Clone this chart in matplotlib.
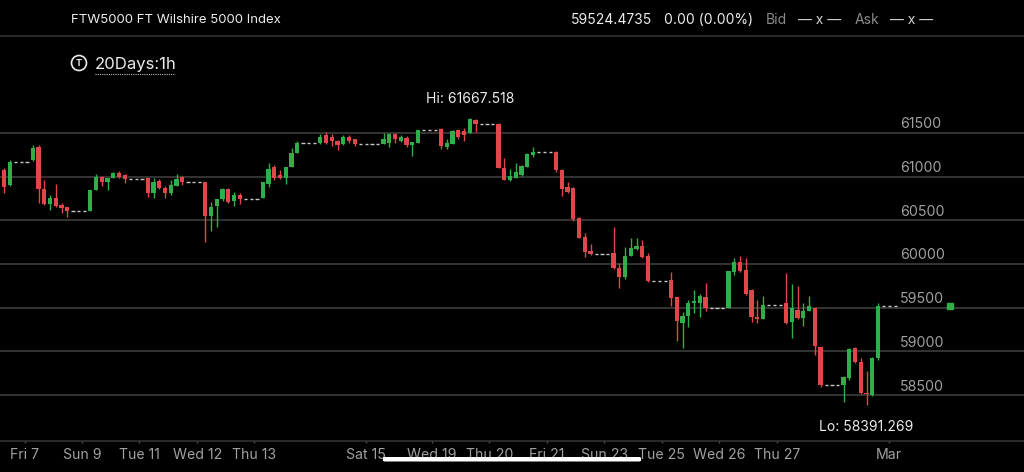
import matplotlib
matplotlib.use("Agg")
import matplotlib.pyplot as plt
from matplotlib.patches import Circle, FancyBboxPatch, Rectangle
import matplotlib.transforms as mtransforms

plt.rcParams['font.family'] = ['Inter', 'DejaVu Sans']

# ---------------- data (hourly candles, 20 days) ----------------
opens = [61076, 60904, 61171, 61171, 61171, 61190, 61342, 60855, 60687, 60759,
         60675, 60649, 60606, 60606, 60606, 60606, 60847, 60999, 60942, 60981,
         61045, 61018, 60973, 60973, 60973, 60981, 60816, 60953, 60866, 60809,
         60893, 60992, 60935, 60935, 60935, 60942, 60549, 60664, 60740, 60858,
         60721, 60790, 60740, 60740, 60740, 60752, 60915, 61106, 61018, 60981,
         61106, 61274, 61381, 61381, 61381, 61381, 61476, 61457, 61411, 61370,
         61457, 61427, 61370, 61370, 61370, 61370, 61376, 61381, 61488, 61411,
         61438, 61362, 61381, 61530, 61530, 61530, 61545, 61335, 61373, 61533,
         61525, 61496, 61648, 61605, 61605, 61605, 61602, 61095, 60961, 60981,
         61018, 61113, 61247, 61280, 61280, 61280, 61285, 61076, 60878, 60866,
         60523, 60312, 60149, 60120, 60120, 60120, 60129, 59958, 59851, 60095,
         60172, 60203, 60092, 59800, 59800, 59800, 59817, 59619, 59328, 59405,
         59557, 59557, 59619, 59495, 59495, 59495, 59495, 59912, 60026, 59931,
         59702, 59397, 59371, 59535, 59535, 59535, 59550, 59336, 59470, 59379,
         59466, 59500, 59056, 58610, 58610, 58610, 58616, 58692, 59035, 58882,
         58524, 58501, 58921, 59524.4735, 59524.4735, 59524.4735]
highs = [61098, 61190, 61171, 61171, 61171, 61362, 61356, 60961, 60790, 60912,
         60701, 60656, 60606, 60606, 60606, 60850, 61030, 61007, 60987, 61056,
         61064, 61030, 60973, 60973, 60973, 60981, 60981, 60969, 60893, 60961,
         61026, 61007, 60935, 60935, 60935, 60942, 60713, 60740, 60873, 60873,
         60820, 60809, 60740, 60740, 60740, 60942, 61159, 61133, 61076, 61113,
         61324, 61407, 61381, 61381, 61381, 61488, 61514, 61488, 61419, 61476,
         61476, 61434, 61370, 61370, 61370, 61370, 61496, 61502, 61496, 61473,
         61465, 61399, 61533, 61530, 61530, 61530, 61553, 61427, 61533, 61548,
         61553, 61667.518, 61656, 61605, 61605, 61605, 61610, 61216, 61084, 61152,
         61133, 61274, 61335, 61280, 61280, 61280, 61296, 61084, 60942, 60885,
         60534, 60351, 60229, 60120, 60120, 60120, 60418, 60017, 60198, 60297,
         60297, 60275, 60122, 59800, 59800, 59800, 59908, 59622, 59454, 59588,
         59702, 59657, 59779, 59495, 59495, 59495, 59920, 60065, 60092, 60065,
         59711, 59588, 59634, 59535, 59535, 59535, 59900, 59771, 59748, 59550,
         59634, 59500, 59056, 58610, 58610, 58610, 58719, 59035, 59054, 58921,
         58779, 58932, 59550, 59524.4735, 59524.4735, 59524.4735]
lows = [60809, 60898, 61171, 61171, 61171, 61179, 60698, 60675, 60618, 60649,
        60587, 60541, 60606, 60606, 60606, 60606, 60847, 60893, 60847, 60981,
        60987, 60930, 60973, 60973, 60973, 60770, 60752, 60855, 60759, 60790,
        60893, 60904, 60935, 60935, 60935, 60255, 60381, 60427, 60724, 60701,
        60664, 60687, 60740, 60740, 60740, 60752, 60878, 60961, 60969, 60915,
        61106, 61274, 61381, 61381, 61381, 61373, 61373, 61350, 61304, 61362,
        61388, 61350, 61370, 61370, 61370, 61370, 61376, 61335, 61381, 61393,
        61342, 61236, 61381, 61530, 61530, 61530, 61312, 61312, 61373, 61434,
        61411, 61496, 61514, 61605, 61605, 61605, 61095, 60961, 60953, 60981,
        61007, 61113, 61228, 61280, 61280, 61280, 61056, 60782, 60816, 60495,
        60294, 60084, 60103, 60120, 60120, 60120, 59943, 59722, 59823, 60092,
        60160, 60074, 59791, 59800, 59800, 59800, 59519, 59122, 59035, 59283,
        59443, 59397, 59466, 59495, 59495, 59495, 59495, 59874, 59912, 59645,
        59340, 59322, 59371, 59535, 59535, 59535, 59308, 59150, 59367, 59285,
        59466, 58959, 58598, 58610, 58610, 58610, 58424, 58673, 58864, 58513,
        58391.269, 58490, 58902, 59524.4735, 59524.4735, 59524.4735]
closes = [60885, 61171, 61171, 61171, 61171, 61324, 60855, 60687, 60752, 60664,
          60637, 60606, 60606, 60606, 60606, 60847, 60999, 60942, 60981, 61045,
          60999, 60973, 60973, 60973, 60973, 60809, 60942, 60866, 60809, 60904,
          60969, 60935, 60935, 60935, 60935, 60549, 60656, 60740, 60858, 60713,
          60790, 60740, 60740, 60740, 60740, 60942, 61084, 60981, 60981, 61106,
          61274, 61381, 61381, 61381, 61381, 61457, 61381, 61411, 61362, 61457,
          61411, 61370, 61370, 61370, 61370, 61370, 61427, 61488, 61427, 61450,
          61362, 61399, 61530, 61530, 61530, 61530, 61350, 61381, 61525, 61457,
          61476, 61656, 61605, 61605, 61605, 61605, 61095, 60961, 61007, 61056,
          61121, 61255, 61280, 61280, 61280, 61280, 61076, 60858, 60827, 60511,
          60301, 60141, 60120, 60120, 60120, 60120, 59951, 59855, 60097, 60183,
          60203, 60084, 59800, 59800, 59800, 59800, 59608, 59348, 59405, 59557,
          59577, 59634, 59495, 59495, 59495, 59495, 59920, 60026, 59923, 59657,
          59397, 59371, 59535, 59535, 59535, 59535, 59325, 59497, 59379, 59459,
          59519, 59062, 58610, 58610, 58610, 58610, 58704, 59024, 58882, 58521,
          58509, 58921, 59524.4735, 59524.4735, 59524.4735, 59524.4735]

y_ticks = [58500, 59000, 59500, 60000, 60500, 61000, 61500]
x_tick_pos = [3.65, 13.6, 23.5, 33.6, 43.5, 63.0, 74.4, 84.4, 94.4, 104.4, 114.4, 124.4, 134.4, 153.9]
x_tick_labels = ["Fri 7", "Sun 9", "Tue 11", "Wed 12", "Thu 13", "Sat 15", "Wed 19",
                 "Thu 20", "Fri 21", "Sun 23", "Tue 25", "Wed 26", "Thu 27", "Mar"]

symbol_title = "FTW5000 FT Wilshire 5000 Index"
last_price = 59524.4735
change_text = "0.00 (0.00%)"
period_text = "20Days:1h"
marker_pos = 164.5

# ---------------- styling ----------------
GREEN = '#2fae4a'
RED = '#e2464b'
GRID = '#383838'
LABEL = '#a0a0a0'
WHITE = '#ececec'

W, H = 1024, 472
fig = plt.figure(figsize=(W / 100, H / 100), dpi=100, facecolor='black')
ax = fig.add_axes([0, 0, 1, 1])
ax.set_facecolor('black')
ax.set_axis_off()

DX = 5.75
YMIN, YMAX = 57620.1, 63020.7
PPX = (YMAX - YMIN) / H   # price units per pixel
ax.set_xlim(-4 / DX, (W - 4) / DX)
ax.set_ylim(YMIN, YMAX)


def fy(ypix):
    return 1 - ypix / H


def fx(xpix):
    return xpix / W


# grid lines + y labels
for v in y_ticks:
    ax.axhline(v, color=GRID, lw=1.3, zorder=1)
    t = mtransforms.offset_copy(mtransforms.blended_transform_factory(ax.transAxes, ax.transData),
                                fig=fig, x=0, y=3.3, units='points')
    ax.text(900 / W, v, f"{v}", transform=t, color=LABEL, fontsize=10.2,
            ha='left', va='baseline', zorder=2)

# header separator and bottom axis line
fig.add_artist(plt.Line2D([0, 1], [fy(36), fy(36)], color='#333333', lw=1.2))
fig.add_artist(plt.Line2D([0, 1], [fy(440.7), fy(440.7)], color='#333333', lw=1.2))

# candles
n = len(opens)
for i in range(n):
    o, h, l, c = opens[i], highs[i], lows[i], closes[i]
    if o == c and h == l:
        ax.hlines(c, i - 0.3, i + 0.3, color='#c8c8c8', lw=1.0, zorder=3)
        continue
    col = GREEN if c >= o else RED
    ax.vlines(i, l, h, color=col, lw=1.0, zorder=3)
    bottom = min(o, c)
    height = max(abs(c - o), 14)
    ax.add_patch(Rectangle((i - 0.36, bottom), 0.72, height, facecolor=col,
                           edgecolor='none', zorder=4))

# current price marker
ax.plot([marker_pos], [last_price], marker='s', ms=4, color=GREEN, zorder=5)

# Hi / Lo labels
hi_idx = highs.index(max(highs))
lo_idx = lows.index(min(lows))
ax.text(hi_idx, max(highs), f"Hi: {max(highs):.3f}", color=WHITE, fontsize=10,
        ha='center', va='baseline',
        transform=mtransforms.offset_copy(ax.transData, fig=fig, x=0, y=11, units='points'))
ax.text(lo_idx, min(lows), f"Lo: {min(lows):.3f}", color=WHITE, fontsize=10,
        ha='center', va='baseline',
        transform=mtransforms.offset_copy(ax.transData, fig=fig, x=0, y=-19, units='points'))

# x ticks and labels
for p, lab in zip(x_tick_pos, x_tick_labels):
    ax.vlines(p, YMIN + (H - 443) * PPX, YMIN + (H - 440.7) * PPX,
              color='#555555', lw=1.0, zorder=2)
    ax.text(p, YMIN + (H - 459.3) * PPX, lab, color=LABEL, fontsize=10.2,
            ha='center', va='baseline', zorder=2)

# header texts
fig.text(fx(71), fy(23.3), symbol_title, color=WHITE, fontsize=9.5, ha='left', va='baseline')
fig.text(fx(571), fy(24), f"{last_price:.4f}", color=WHITE, fontsize=10, ha='left', va='baseline')
fig.text(fx(664), fy(24), change_text, color=WHITE, fontsize=10, ha='left', va='baseline')
fig.text(fx(766), fy(24), "Bid", color='#8a8a8a', fontsize=10, ha='left', va='baseline')
fig.text(fx(798), fy(24), "— x —", color='#d0d0d0', fontsize=10, ha='left', va='baseline')
fig.text(fx(855), fy(24), "Ask", color='#8a8a8a', fontsize=10, ha='left', va='baseline')
fig.text(fx(890), fy(24), "— x —", color='#d0d0d0', fontsize=10, ha='left', va='baseline')

# period selector (circle drawn in inch units so it stays round)
fig.add_artist(Circle((0.79, (H - 63) / 100), 0.075, transform=fig.dpi_scale_trans,
                      facecolor='none', edgecolor=WHITE, lw=1.2))
fig.text(fx(79), fy(63), "T", color=WHITE, fontsize=6.5, ha='center', va='center', fontweight='bold')
fig.text(fx(95), fy(69), period_text, color=WHITE, fontsize=12, ha='left', va='baseline')
fig.add_artist(plt.Line2D([fx(95), fx(174)], [fy(73.5), fy(73.5)], color='#bbbbbb',
                          lw=0.8, linestyle=(0, (1, 1))))

# home indicator bar
fig.add_artist(FancyBboxPatch((fx(383), fy(461.5)), fx(258), 4.5 / H,
                              boxstyle="round,pad=0,rounding_size=0.002",
                              transform=fig.transFigure, facecolor='white', edgecolor='none'))

fig.savefig("out.png", dpi=100, facecolor='black')
